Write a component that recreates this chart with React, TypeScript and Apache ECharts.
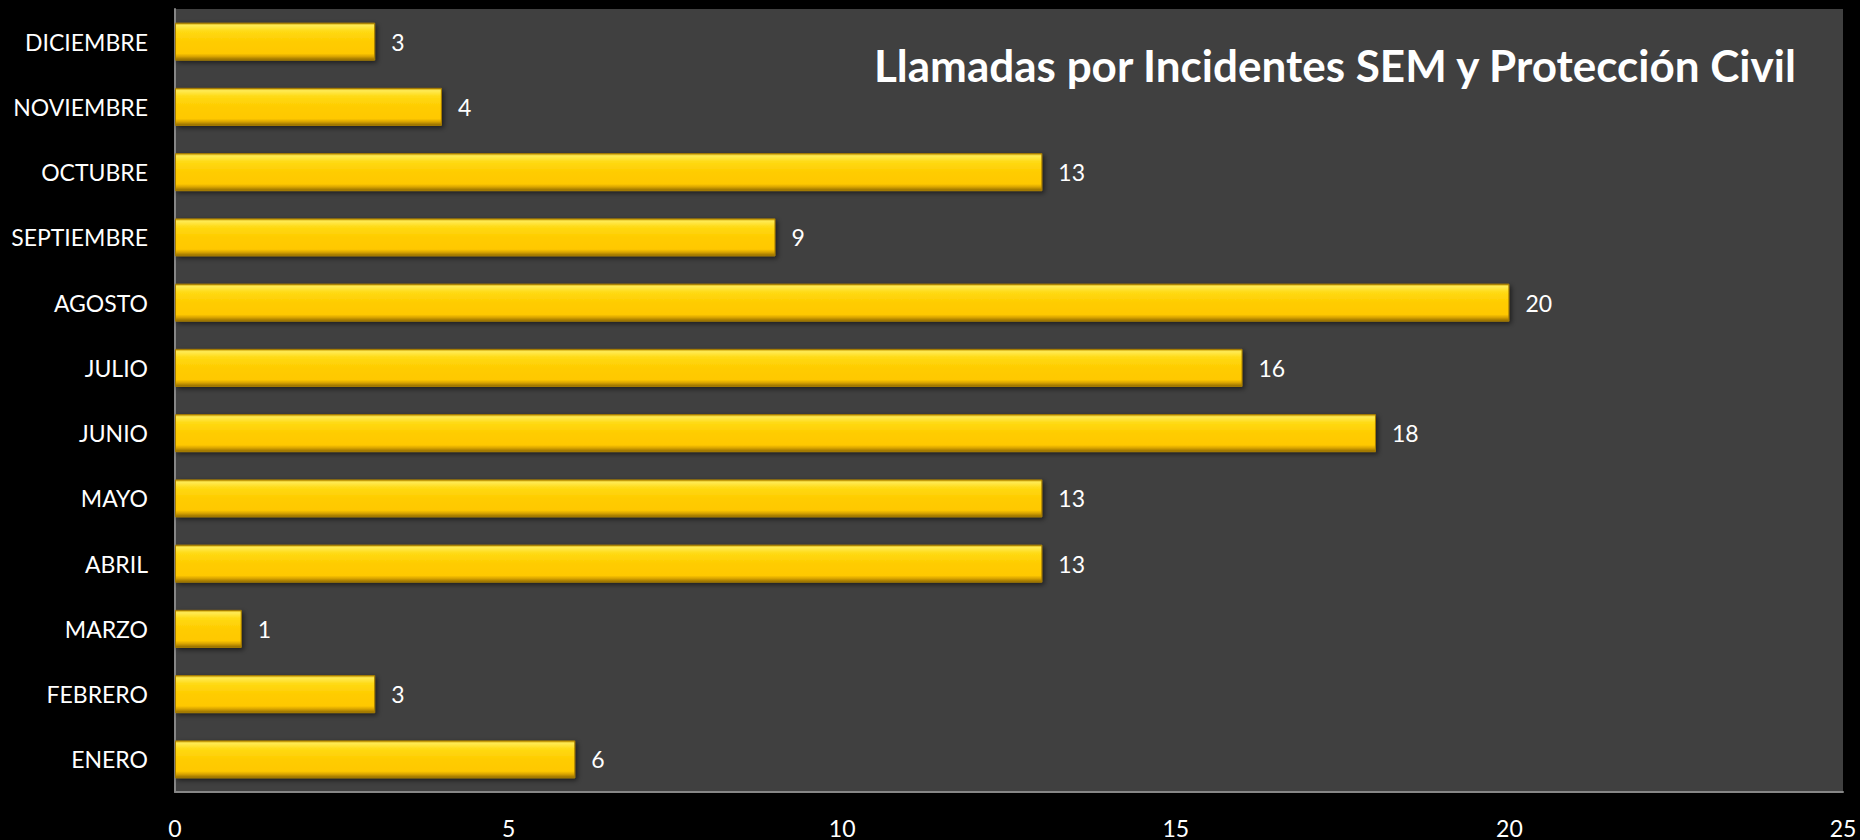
import React, { useEffect, useRef } from "react";
import * as echarts from "echarts";

const months = [
  "ENERO",
  "FEBRERO",
  "MARZO",
  "ABRIL",
  "MAYO",
  "JUNIO",
  "JULIO",
  "AGOSTO",
  "SEPTIEMBRE",
  "OCTUBRE",
  "NOVIEMBRE",
  "DICIEMBRE",
];
const calls = [6, 3, 1, 13, 13, 18, 16, 20, 9, 13, 4, 3];
const chartTitle = "Llamadas por Incidentes SEM y Protección Civil";

export default function App() {
  const ref = useRef<HTMLDivElement>(null);
  useEffect(() => {
    if (!ref.current) return;
    const chart = echarts.init(ref.current, null, { renderer: "svg" });
    const barColor = new echarts.graphic.LinearGradient(0, 0, 0, 1, [
      { offset: 0, color: "#C99A00" },
      { offset: 0.06, color: "#FFEB55" },
      { offset: 0.22, color: "#FFDA14" },
      { offset: 0.5, color: "#FFCC00" },
      { offset: 0.82, color: "#FFC800" },
      { offset: 0.9, color: "#D9A400" },
      { offset: 1, color: "#8F6A00" },
    ]);
    chart.setOption({
      animation: false,
      backgroundColor: "#000000",
      textStyle: { fontFamily: "Lato" },
      graphic: [
        {
          type: "text",
          left: 874,
          top: 43,
          style: {
            text: chartTitle,
            fill: "#FFFFFF",
            font: "bold 44px Lato",
          },
          z: 10,
        },
      ],
      grid: {
        left: 175,
        right: 17,
        top: 9,
        bottom: 48,
        show: true,
        backgroundColor: "#404040",
        borderWidth: 0,
        containLabel: false,
      },
      xAxis: {
        type: "value",
        min: 0,
        max: 25,
        interval: 5,
        axisLine: { show: true, lineStyle: { color: "#868686", width: 2 } },
        axisTick: { show: false },
        splitLine: { show: false },
        axisLabel: {
          color: "#FFFFFF",
          fontSize: 23,
          fontFamily: "Lato",
          margin: 24,
        },
      },
      yAxis: {
        type: "category",
        data: months,
        axisLine: { show: true, lineStyle: { color: "#868686", width: 2 } },
        axisTick: { show: false },
        splitLine: { show: false },
        axisLabel: {
          color: "#FFFFFF",
          fontSize: 23,
          fontFamily: "Lato",
          margin: 27,
        },
      },
      series: [
        {
          type: "bar",
          data: calls,
          barWidth: 38,
          itemStyle: {
            color: barColor,
            borderColor: "#A87E00",
            borderWidth: 1,
            shadowColor: "rgba(0,0,0,0.55)",
            shadowBlur: 5,
            shadowOffsetX: 2,
            shadowOffsetY: 2,
          },
          label: {
            show: true,
            position: "right",
            distance: 16,
            color: "#FFFFFF",
            fontSize: 23,
            fontFamily: "Lato",
          },
        },
      ],
    });
    return () => chart.dispose();
  }, []);
  return (
    <div
      ref={ref}
      style={{ position: "fixed", left: 0, top: 0, width: 1860, height: 840 }}
    />
  );
}
